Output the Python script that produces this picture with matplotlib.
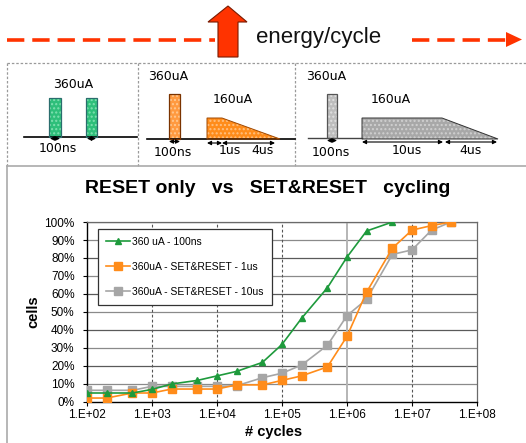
import matplotlib
matplotlib.use("Agg")
import matplotlib.pyplot as plt
from matplotlib.patches import Rectangle, Polygon
from matplotlib.ticker import FixedLocator, NullLocator

# ---------------- data ----------------
cycles_green = [1e2, 2e2, 5e2, 1e3, 2e3, 5e3, 1e4, 2e4, 5e4, 1e5, 2e5, 5e5, 1e6, 2e6, 5e6]
cells_green = [5, 5, 5, 7, 10, 12, 14.5, 17, 22, 32, 46.5, 63.5, 80.5, 95, 100]

cycles_set = [1e2, 2e2, 5e2, 1e3, 2e3, 5e3, 1e4, 2e4, 5e4, 1e5, 2e5, 5e5, 1e6, 2e6, 5e6, 1e7, 2e7, 4e7]
cells_orange = [2.2, 2.2, 5, 5, 7.2, 7.2, 7.2, 9.5, 9.5, 12, 14.5, 19.5, 36.5, 61, 85.5, 95.5, 98, 100]
cells_gray = [6.5, 6.5, 6.5, 8.7, 8.7, 8.7, 8.7, 9, 13.5, 16, 20.5, 31.5, 48, 57, 82, 84.5, 95.5, 100]

series_labels = ["360 uA - 100ns", "360uA - SET&RESET - 1us", "360uA - SET&RESET - 10us"]
x_ticks = [1e2, 1e3, 1e4, 1e5, 1e6, 1e7, 1e8]
x_ticklabels = ["1.E+02", "1.E+03", "1.E+04", "1.E+05", "1.E+06", "1.E+07", "1.E+08"]
y_ticks = [0, 10, 20, 30, 40, 50, 60, 70, 80, 90, 100]
y_ticklabels = [f"{v}%" for v in y_ticks]

title = "RESET only   vs   SET&RESET   cycling"

W, H = 526, 443
fig = plt.figure(figsize=(W / 100, H / 100), dpi=100)
fig.patch.set_facecolor("white")

SANS = ["Liberation Sans", "DejaVu Sans"]
DJ = ["DejaVu Sans"]

# ---------------- decoration layer (pixel coords) ----------------
deco = fig.add_axes([0, 0, 1, 1], zorder=0)
deco.set_xlim(0, W)
deco.set_ylim(H, 0)
deco.axis("off")

RED = "#FF3300"
# dashed red energy line
deco.plot([7, 215], [39.5, 39.5], color=RED, lw=2.6, dashes=(4.8, 2.2))
deco.plot([412, 508], [39.5, 39.5], color=RED, lw=2.6, dashes=(4.8, 2.2))
deco.add_patch(Polygon([[506, 32], [522, 39.5], [506, 47]], closed=True, color=RED, lw=0))
# big up arrow
deco.add_patch(Polygon([[218, 57], [218, 22], [208, 22], [228, 6], [247, 22], [238, 22], [238, 57]],
                       closed=True, facecolor=RED, edgecolor="#7a1a00", lw=0.8, zorder=3))
deco.text(256, 37, "energy/cycle", fontsize=16, family=SANS, color="#111111", va="center", ha="left")

# panel borders
GB = "#9a9a9a"
deco.plot([7, 526], [63, 63], color=GB, lw=0.9, dashes=(2, 1.5))
for xv in (7, 138, 295):
    deco.plot([xv, xv], [63, 166], color=GB, lw=0.9, dashes=(2, 1.5))
deco.plot([7, 526], [166, 166], color="#aaaaaa", lw=1.2)
deco.plot([7, 7], [166, 443], color="#aaaaaa", lw=1.2)


def tex_rect(x0, y0, x1, y1, fc, hc, ec):
    deco.add_patch(Rectangle((x0, y0), x1 - x0, y1 - y0, facecolor=fc, edgecolor=hc, lw=0, hatch="....", zorder=2))
    deco.add_patch(Rectangle((x0, y0), x1 - x0, y1 - y0, fill=False, edgecolor=ec, lw=0.9, zorder=3))


def tex_poly(pts, fc, hc, ec):
    deco.add_patch(Polygon(pts, closed=True, facecolor=fc, edgecolor=hc, lw=0, hatch="....", zorder=2))
    deco.add_patch(Polygon(pts, closed=True, fill=False, edgecolor=ec, lw=0.7, zorder=3))


def darrow(x0, x1, y):
    deco.annotate("", xy=(x1, y), xytext=(x0, y),
                  arrowprops=dict(arrowstyle="<|-|>", color="black", lw=0.8, mutation_scale=6,
                                  shrinkA=0, shrinkB=0), zorder=4)


# panel 1
deco.plot([24, 137], [137, 137], color="black", lw=1.2, zorder=3)
tex_rect(49, 98, 61, 137, "#2EBF7A", "#7FE0B0", "#2a6d6d")
tex_rect(86, 98, 97, 137, "#2EBF7A", "#7FE0B0", "#2a6d6d")
darrow(50, 60, 138.5)
darrow(87, 96, 138.5)
deco.text(73, 84, "360uA", fontsize=9, family=DJ, ha="center", va="center")
deco.text(58, 149, "100ns", fontsize=9, family=DJ, ha="center", va="center")

# panel 2
deco.plot([147, 295], [139, 139], color="black", lw=1.2, zorder=3)
tex_rect(169, 94, 180, 139, "#FF9A40", "#FFC890", "#7a3300")
tex_poly([[207, 139], [207, 118], [222, 118], [280, 139]], "#FF8C1A", "#FFC080", "#a04800")
darrow(169, 180, 141.5)
darrow(207, 222, 143)
darrow(222, 275, 143)
deco.text(148, 76, "360uA", fontsize=9, family=DJ, ha="left", va="center")
deco.text(233, 99, "160uA", fontsize=9, family=DJ, ha="center", va="center")
deco.text(173, 153, "100ns", fontsize=9, family=DJ, ha="center", va="center")
deco.text(230, 151, "1us", fontsize=9, family=DJ, ha="center", va="center")
deco.text(262, 151, "4us", fontsize=9, family=DJ, ha="center", va="center")

# panel 3
deco.plot([308, 362], [138, 138], color="#444444", lw=1.0, zorder=3)
tex_rect(327, 94, 337, 138, "#BDBDBD", "#E0E0E0", "#555555")
tex_poly([[362, 139], [362, 118], [442, 118], [498, 139]], "#A8A8A8", "#D0D0D0", "#333333")
darrow(327, 337, 140.5)
darrow(362, 443, 142)
darrow(445, 497, 142)
deco.text(306, 76, "360uA", fontsize=9, family=DJ, ha="left", va="center")
deco.text(391, 99, "160uA", fontsize=9, family=DJ, ha="center", va="center")
deco.text(331, 152, "100ns", fontsize=9, family=DJ, ha="center", va="center")
deco.text(407, 151, "10us", fontsize=9, family=DJ, ha="center", va="center")
deco.text(470, 151, "4us", fontsize=9, family=DJ, ha="center", va="center")

# chart title
deco.text(268, 188, title, fontsize=14, fontweight="bold", family=SANS, ha="center", va="center")

# ---------------- main chart ----------------
ax = fig.add_axes([87 / W, 1 - 402 / H, 390 / W, 180 / H], zorder=2)
ax.set_facecolor("white")
ax.set_xscale("log")
ax.set_xlim(1e2, 1e8)
ax.set_ylim(0, 100)

GREEN = "#1E9A3C"
ORANGE = "#FF8C1A"
GRAY = "#A6A6A6"
ax.plot(cycles_green, cells_green, color=GREEN, lw=1.2, marker="^", ms=5, mec=GREEN, mfc=GREEN,
        label=series_labels[0], zorder=5)
ax.plot(cycles_set, cells_orange, color=ORANGE, lw=1.2, marker="s", ms=5.3, mec=ORANGE, mfc=ORANGE,
        label=series_labels[1], zorder=4)
ax.plot(cycles_set, cells_gray, color=GRAY, lw=1.2, marker="s", ms=5.3, mec=GRAY, mfc=GRAY,
        label=series_labels[2], zorder=3)

ax.xaxis.set_major_locator(FixedLocator(x_ticks))
ax.xaxis.set_minor_locator(NullLocator())
ax.set_xticklabels(x_ticklabels)
ax.set_yticks(y_ticks)
ax.set_yticklabels(y_ticklabels)
ax.tick_params(axis="both", labelsize=8.5, length=3, width=0.8, direction="out", colors="black")
ax.tick_params(axis="y", pad=6)
ax.tick_params(axis="x", pad=2)
for lab in ax.get_xticklabels() + ax.get_yticklabels():
    lab.set_family(SANS)

for i, yv in enumerate(y_ticks[1:]):
    ax.axhline(yv, color="#5a5a5a" if i % 2 else "#8a8a8a", lw=0.9, zorder=1)
for xv in x_ticks[1:-1]:
    if xv == 1e6:
        ax.axvline(xv, color="#b5b5b5", lw=1.4, zorder=1)
    else:
        ax.axvline(xv, color="#555555", lw=0.8, dashes=(2.5, 2), zorder=1)

for s in ("top", "right"):
    ax.spines[s].set_color("#6a6a6a")
    ax.spines[s].set_linewidth(0.9)
for s in ("left", "bottom"):
    ax.spines[s].set_color("black")
    ax.spines[s].set_linewidth(1.0)

ax.set_ylabel("cells", fontsize=10.5, fontweight="bold", family=SANS, va="center")
ax.yaxis.set_label_coords(-0.137, 0.5)
ax.set_xlabel("# cycles", fontsize=10.5, fontweight="bold", family=SANS, va="center")
ax.xaxis.set_label_coords(0.478, -0.167)

leg = ax.legend(loc="upper left", bbox_to_anchor=(0.028, 0.961), frameon=True, fancybox=False,
                edgecolor="#333333", framealpha=1, handlelength=2.3, handletextpad=0.25,
                labelspacing=1.45, borderpad=0.75, borderaxespad=0,
                prop={"family": SANS, "size": 7.5})
leg.get_frame().set_linewidth(0.9)
leg.set_zorder(6)

fig.savefig("out.png", dpi=100, facecolor="white")
